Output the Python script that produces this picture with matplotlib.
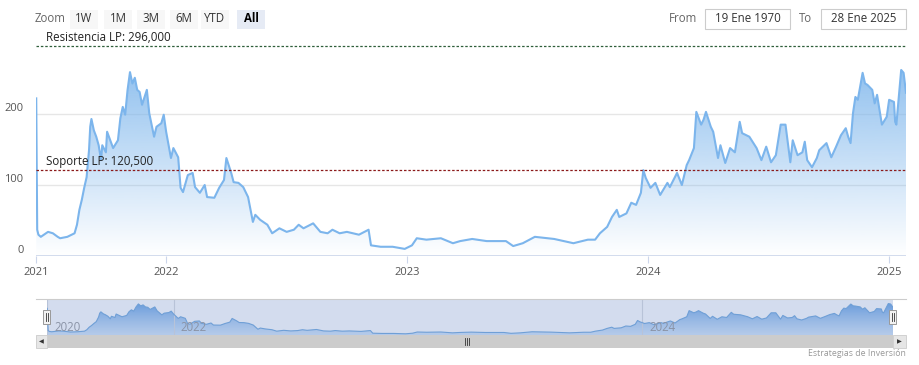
import matplotlib
matplotlib.use("Agg")
import matplotlib.pyplot as plt
import numpy as np
from matplotlib.patches import Rectangle
from matplotlib.colors import LinearSegmentedColormap

plt.rcParams["font.family"] = ["Open Sans", "DejaVu Sans"]

# --- datos (año decimal, valor) ---
t = [2021.461, 2021.465, 2021.47, 2021.48, 2021.51, 2021.53, 2021.55, 2021.56, 2021.59,
     2021.62, 2021.63, 2021.64, 2021.65, 2021.66, 2021.67, 2021.68, 2021.685, 2021.69,
     2021.70, 2021.71, 2021.72, 2021.73, 2021.735, 2021.75, 2021.755, 2021.77, 2021.78,
     2021.80, 2021.81, 2021.82, 2021.83, 2021.84, 2021.85, 2021.86, 2021.87, 2021.88,
     2021.89, 2021.90, 2021.92, 2021.93, 2021.95, 2021.96, 2021.98, 2021.99, 2022.00,
     2022.02, 2022.03, 2022.05, 2022.06, 2022.07, 2022.09, 2022.11, 2022.12, 2022.14,
     2022.16, 2022.17, 2022.20, 2022.22, 2022.24, 2022.25, 2022.27, 2022.28, 2022.30,
     2022.32, 2022.34, 2022.36, 2022.37, 2022.39, 2022.42, 2022.44, 2022.47, 2022.50,
     2022.53, 2022.55, 2022.57, 2022.61, 2022.64, 2022.67, 2022.69, 2022.72, 2022.75,
     2022.80, 2022.84, 2022.85, 2022.89, 2022.94, 2022.99, 2023.02, 2023.04, 2023.08,
     2023.14, 2023.19, 2023.22, 2023.27, 2023.33, 2023.41, 2023.44, 2023.48, 2023.53,
     2023.61, 2023.69, 2023.75, 2023.78, 2023.80, 2023.83, 2023.85, 2023.87, 2023.88,
     2023.91, 2023.93, 2023.95, 2023.97, 2023.98, 2023.99, 2024.01, 2024.03, 2024.05,
     2024.08, 2024.09, 2024.12, 2024.14, 2024.16, 2024.17, 2024.19, 2024.20, 2024.22,
     2024.23, 2024.24, 2024.26, 2024.27, 2024.29, 2024.30, 2024.32, 2024.34, 2024.36,
     2024.38, 2024.39, 2024.42, 2024.45, 2024.47, 2024.49, 2024.51, 2024.53, 2024.55,
     2024.57, 2024.59, 2024.60, 2024.62, 2024.64, 2024.65, 2024.66, 2024.68, 2024.70,
     2024.71, 2024.74, 2024.76, 2024.78, 2024.80, 2024.82, 2024.83, 2024.84, 2024.85,
     2024.86, 2024.87, 2024.89, 2024.90, 2024.91, 2024.93, 2024.94, 2024.95, 2024.97,
     2024.99, 2025.00, 2025.02, 2025.025, 2025.03, 2025.05, 2025.06, 2025.07]
precio = [222, 37, 30, 27, 34, 32, 27, 25, 27,
          32, 44, 65, 79, 96, 111, 149, 182, 193,
          177, 168, 156, 135, 156, 146, 175, 161, 152,
          163, 194, 210, 199, 234, 259, 243, 251, 234,
          231, 213, 234, 201, 168, 182, 187, 199, 175,
          138, 152, 139, 96, 90, 114, 117, 97, 89,
          100, 83, 82, 96, 107, 138, 117, 104, 103,
          97, 83, 48, 58, 51, 44, 32, 39, 34,
          37, 44, 39, 46, 34, 32, 37, 32, 34,
          30, 37, 15, 13, 13, 10, 15, 25, 23,
          25, 18, 21, 24, 21, 21, 14, 18, 27,
          24, 18, 23, 23, 32, 41, 55, 65, 55,
          60, 75, 72, 89, 121, 110, 96, 103, 86,
          103, 97, 117, 100, 128, 135, 152, 203, 185,
          192, 203, 182, 175, 138, 156, 131, 152, 146,
          189, 173, 168, 152, 135, 154, 132, 142, 185,
          185, 132, 163, 142, 146, 161, 135, 125, 138,
          149, 159, 139, 154, 170, 180, 168, 159, 201,
          224, 220, 258, 243, 241, 234, 215, 227, 185,
          196, 220, 217, 189, 185, 262, 258, 230]

soporte = 120.5
resistencia = 296.0
x_ticks = [2021.46, 2022, 2023, 2024, 2025]
x_labels = ["2021", "2022", "2023", "2024", "2025"]
nav_ticks = [2021.46, 2022, 2024]
nav_labels = ["2020", "2022", "2024"]
y_ticks = [0, 100, 200]
botones = ["1W", "1M", "3M", "6M", "YTD", "All"]

W, H = 920, 365
XMIN, XMAX = 2021.46, 2025.07
LINE = "#7cb5ec"


def fx(px):
    return px / W


def fy(py):
    return 1 - py / H


def gradient_fill(ax, x, y, ymin, c_top, c_bot):
    poly = ax.fill_between(x, y, ymin, color="none", lw=0)
    cmap = LinearSegmentedColormap.from_list("g", [c_bot, c_top])
    grad = np.linspace(0, 1, 256).reshape(-1, 1)
    y0, y1 = ax.get_ylim()
    im = ax.imshow(grad, cmap=cmap, aspect="auto", origin="lower",
                   extent=[XMIN, XMAX, y0, y1], zorder=1)
    im.set_clip_path(poly.get_paths()[0], transform=ax.transData)


fig = plt.figure(figsize=(W / 100, H / 100), dpi=100)

# ---- gráfico principal ----
ax = fig.add_axes([fx(36), fy(256), fx(906) - fx(36), (256 - 43) / H])
ax.set_xlim(XMIN, XMAX)
ax.set_ylim(0, 300)
for s in ax.spines.values():
    s.set_visible(False)
for yv in y_ticks:
    ax.axhline(yv, color="#e6e6e6", lw=1, zorder=0)
gradient_fill(ax, t, precio, 0, (124/255, 181/255, 236/255, 0.95), (124/255, 181/255, 236/255, 0.0))
ax.plot(t, precio, color=LINE, lw=1.5, zorder=3)
ax.axhline(soporte, color="#8b1a1a", lw=0.9, ls=(0, (2, 1.5)), zorder=4)
ax.axhline(resistencia, color="#2f5f3a", lw=0.9, ls=(0, (2, 1.5)), zorder=4)
ax.text(0.011, soporte + 3, "Soporte LP: 120,500", fontsize=8.3, color="#222222",
        transform=ax.get_yaxis_transform(), va="bottom", zorder=5)
ax.text(0.011, resistencia + 2, "Resistencia LP: 296,000", fontsize=8.3, color="#222222",
        transform=ax.get_yaxis_transform(), va="bottom", zorder=5)
ax.set_xticks(x_ticks)
ax.set_xticklabels(x_labels)
ax.set_yticks(y_ticks)
ax.set_yticklabels([str(v) for v in y_ticks])
ax.tick_params(axis="x", length=5, color="#ccd6eb", labelsize=8, labelcolor="#555555", pad=3)
ax.tick_params(axis="y", length=0, labelsize=8, labelcolor="#555555", pad=9)
for lab in ax.get_yticklabels():
    lab.set_verticalalignment("bottom")
ax.axhline(0, color="#ccd6eb", lw=1.2, zorder=2)

# ---- navegador ----
nav = fig.add_axes([fx(47), fy(335), fx(893) - fx(47), (335 - 299) / H])
nav.set_xlim(XMIN, XMAX)
nav.set_ylim(0, 300)
nav.set_facecolor("#d3dcee")
for s in nav.spines.values():
    s.set_visible(False)
gradient_fill(nav, t, precio, 0, (80/255, 140/255, 215/255, 0.9), (150/255, 185/255, 230/255, 0.5))
nav.plot(t, precio, color="#6f9fd6", lw=0.8, zorder=3)
for xv, lab in zip(nav_ticks, nav_labels):
    nav.axvline(xv, color="#b8c3d8", lw=0.8, zorder=2)
    nav.text(xv + 0.03, 8, lab, fontsize=8.3, color="#8a93a6", va="bottom", zorder=4)
nav.set_xticks([])
nav.set_yticks([])

fig.add_artist(plt.Line2D([fx(36), fx(906)], [fy(299), fy(299)], color="#cccccc", lw=0.8))

# asas del navegador
for hx in (47, 893):
    fig.add_artist(Rectangle((fx(hx - 3.5), fy(324)), 7 / W, 14 / H, fc="#f2f2f2",
                             ec="#999999", lw=0.7))
    for dx in (-1, 1):
        fig.add_artist(plt.Line2D([fx(hx + dx), fx(hx + dx)], [fy(321), fy(313)],
                                  color="#333333", lw=0.6))

# barra de desplazamiento
fig.add_artist(Rectangle((fx(36), fy(348)), 870 / W, 13 / H, fc="#f2f2f2", ec="none"))
fig.add_artist(Rectangle((fx(47), fy(348)), 846 / W, 13 / H, fc="#cccccc", ec="none"))
fig.add_artist(Rectangle((fx(36), fy(348)), 11 / W, 13 / H, fc="#e6e6e6", ec="#cccccc", lw=0.6))
fig.add_artist(Rectangle((fx(893), fy(348)), 13 / W, 13 / H, fc="#e6e6e6", ec="#cccccc", lw=0.6))
fig.text(fx(41.5), fy(341.5), "◀", fontsize=4.5, color="#333333", ha="center", va="center")
fig.text(fx(899.5), fy(341.5), "▶", fontsize=4.5, color="#333333", ha="center", va="center")
for dx in (-2, 0, 2):
    fig.add_artist(plt.Line2D([fx(467 + dx), fx(467 + dx)], [fy(345), fy(338)],
                              color="#333333", lw=0.6))

# ---- selector de rango ----
fig.text(fx(35), fy(19), "Zoom", fontsize=8.3, color="#666666", va="center")
bx = [70, 104, 137, 170, 201, 237]
for x0, lab in zip(bx, botones):
    sel = lab == "All"
    fig.add_artist(Rectangle((fx(x0), fy(29)), 28 / W, 19 / H,
                             fc="#e6ebf5" if sel else "#f7f7f7", ec="none"))
    fig.text(fx(x0 + 14), fy(19), lab, fontsize=8.3, ha="center", va="center",
             color="#000000" if sel else "#333333", fontweight="bold" if sel else "normal")

fig.text(fx(697), fy(19), "From", fontsize=8.3, color="#666666", ha="right", va="center")
fig.add_artist(Rectangle((fx(705), fy(29)), 85 / W, 20 / H, fc="white", ec="#cccccc", lw=0.8))
fig.text(fx(747.5), fy(19), "19 Ene 1970", fontsize=8.3, color="#333333", ha="center", va="center")
fig.text(fx(812), fy(19), "To", fontsize=8.3, color="#666666", ha="right", va="center")
fig.add_artist(Rectangle((fx(821), fy(29)), 85 / W, 20 / H, fc="white", ec="#cccccc", lw=0.8))
fig.text(fx(863.5), fy(19), "28 Ene 2025", fontsize=8.3, color="#333333", ha="center", va="center")

fig.text(fx(906), fy(353), "Estrategias de Inversión", fontsize=6.3, color="#999999",
         ha="right", va="center")

fig.savefig("out.png", dpi=100)
